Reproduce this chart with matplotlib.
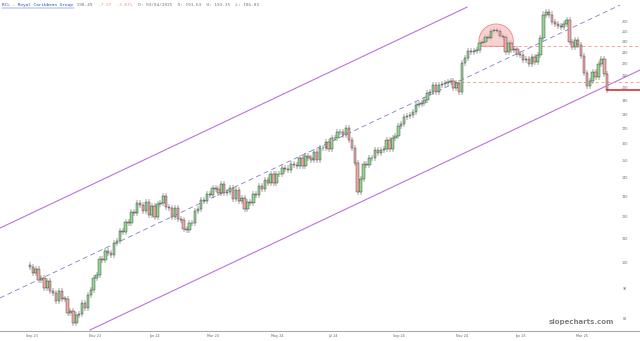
import matplotlib
matplotlib.use('Agg')
import matplotlib.pyplot as plt
import numpy as np
from matplotlib.transforms import blended_transform_factory, IdentityTransform
from matplotlib.patches import Polygon
from matplotlib.lines import Line2D

# ---------------------------------------------------------------------
# data (one candle per two sessions)

first_open = 99.2
closes = [
	98.2, 96.1, 97.6, 93.6, 94.0, 90.6, 92.9, 89.5, 88.6, 86.0,
	89.6, 86.8, 86.6, 82.0, 82.6, 78.9, 81.2, 81.6, 85.3, 83.6,
	88.0, 89.9, 94.0, 95.4, 101.5, 101.2, 104.8, 103.9, 103.0, 108.3,
	109.1, 113.3, 113.2, 117.8, 116.9, 122.5, 121.8, 126.6, 125.6, 122.6,
	127.5, 121.1, 125.3, 120.0, 126.3, 126.9, 130.5, 124.9, 124.4, 120.1,
	124.2, 119.2, 118.7, 114.3, 113.7, 116.9, 117.0, 122.6, 123.8, 128.4,
	127.9, 131.6, 131.1, 134.7, 134.2, 132.0, 136.6, 132.1, 132.5, 134.5,
	129.0, 133.5, 127.9, 129.4, 124.0, 127.4, 126.9, 131.5, 131.1, 135.6,
	134.2, 138.9, 137.4, 142.2, 137.5, 142.1, 142.0, 145.6, 145.4, 144.3,
	147.8, 147.7, 146.6, 151.4, 146.6, 152.5, 151.3, 150.1, 155.1, 150.1,
	157.5, 157.5, 161.3, 157.4, 163.9, 163.9, 167.8, 167.9, 166.4, 170.5,
	162.6, 157.6, 148.8, 132.6, 139.6, 147.9, 147.6, 151.4, 151.3, 156.3,
	154.9, 156.3, 157.4, 162.6, 157.4, 163.9, 165.2, 171.8, 173.3, 178.7,
	179.0, 180.1, 181.9, 187.4, 187.8, 188.9, 190.8, 196.5, 197.0, 202.8,
	196.9, 202.9, 203.3, 204.5, 205.0, 206.1, 200.2, 204.5, 197.0, 221.4,
	225.5, 232.2, 231.0, 232.1, 232.9, 239.6, 240.5, 245.4, 244.3, 251.3,
	252.2, 251.3, 246.2, 245.4, 231.0, 239.6, 232.9, 234.0, 229.2, 228.5,
	223.7, 224.9, 220.2, 226.7, 221.9, 228.5, 244.3, 267.9, 271.0, 267.9,
	260.5, 257.5, 256.3, 255.4, 258.4, 261.6, 240.5, 235.9, 242.4, 237.8,
	227.4, 212.8, 201.7, 206.1, 213.3, 209.4, 220.2, 224.9, 211.6, 198.49,
]

xtick_pos = [0.7, 22.4, 42.8, 63.1, 85.2, 104.5, 127.2, 149.0, 169.0, 190.3]
xtick_labels = ['Sep 23', 'Nov 23', 'Jan 24', 'Mar 24', 'May 24',
				'Jul 24', 'Sep 24', 'Nov 24', 'Jan 25', 'Mar 25']
ytick_vals = list(range(80, 261, 10))

# drawn trend channel (index, price)
chan_upper = [(-10.3, 114.8), (150.7, 275.9)]
chan_mid = [(-10.3, 87.0), (203.4, 278.1)]
chan_lower = [(20.7, 76.6), (210.3, 214.9)]

# horizontal levels (price, start index)
level_top = (236.2, 154.1)
level_mid = (204.7, 146.6)
last_price = 198.49

# rounded-top marker (index, price of centre, price of base, radius in px)
dome = (160.7, 241.0, 236.2, 17.2)

header = [
	('RCL - Royal Caribbean Group', '#2a4fc9'),
	(' 198.49', '#777777'),
	('  -7.57  -3.67%', '#f08a7a'),
	('  D: 03/04/2025  O: 191.63  H: 193.35  L: 186.03', '#777777'),
]

#----------------------------------------------------------------------

def draw_candles(ax):
	n = len(closes)
	x = np.arange(n)
	c = np.array(closes)
	o = np.concatenate([[first_open], c[:-1]])
	top = np.maximum(o, c)
	bot = np.minimum(o, c)
	wick = 1.012
	ax.vlines(x, bot / wick, top * wick, color='#444444', lw=0.35, zorder=2)
	up = c >= o
	h = np.maximum(top - bot, top * 0.003)
	ax.bar(x[up], h[up], bottom=bot[up], width=0.85, color='#8fd88f',
		   edgecolor='#333333', linewidth=0.3, zorder=3)
	ax.bar(x[~up], h[~up], bottom=bot[~up], width=0.85, color='#f4a6a6',
		   edgecolor='#333333', linewidth=0.3, zorder=3)


def draw_markup(ax):
	for pts, ls, col, lw in [(chan_upper, '-', '#bb72e0', 0.8),
							 (chan_lower, '-', '#bb72e0', 0.8),
							 (chan_mid, (0, (6, 4)), '#8a78d0', 0.6)]:
		ax.plot([p[0] for p in pts], [p[1] for p in pts], linestyle=ls,
				color=col, lw=lw, zorder=1)

	x1 = ax.get_xlim()[1]
	for price, start in [level_top, level_mid]:
		ax.plot([start, x1], [price, price], linestyle=(0, (4, 3)),
				color='#f29a8e', lw=0.6, zorder=1)
	ax.plot([len(closes) - 1, x1], [last_price, last_price],
			color='#cc2222', lw=1.1, zorder=4)

	# rounded top
	cx, cy = ax.transData.transform((dome[0], dome[1]))
	_, base = ax.transData.transform((dome[0], dome[2]))
	r = dome[3]
	a0 = np.arcsin((base - cy) / r)
	t = np.linspace(a0, np.pi - a0, 80)
	pts = np.column_stack([cx + r * np.cos(t), cy + r * np.sin(t)])
	ax.add_patch(Polygon(pts, closed=True, transform=IdentityTransform(),
						 facecolor='#f6c4c4', edgecolor='#e06b6b',
						 alpha=0.75, lw=0.6, zorder=2))


def main():
	fig = plt.figure(figsize=(6.4, 3.41), dpi=100)
	ax = fig.add_axes([0, 10 / 341, 1, 327 / 341])

	ax.set_yscale('log')
	ax.set_xlim(-10.3, 210.3)
	ax.set_ylim(76.3, 279.3)

	draw_candles(ax)
	draw_markup(ax)

	ax.yaxis.set_major_locator(matplotlib.ticker.NullLocator())
	ax.yaxis.set_minor_locator(matplotlib.ticker.NullLocator())
	tr = blended_transform_factory(ax.transAxes, ax.transData)
	for v in ytick_vals:
		ax.text(0.977, v, str(v), transform=tr, ha='center', va='center',
				fontsize=2.4, color='#666666')

	ax.set_xticks(xtick_pos, xtick_labels)
	ax.tick_params(axis='x', length=0, pad=2.2, labelsize=2.4, labelcolor='#666666')

	for s in ['top', 'left', 'right']:
		ax.spines[s].set_visible(False)
	ax.spines['bottom'].set_color('#aaaaaa')
	ax.spines['bottom'].set_linewidth(0.8)

	ax.text(0.909, 0.018, 'slopecharts.com', transform=ax.transAxes,
			ha='center', va='bottom', fontsize=5, color='#808080',
			fontweight='bold')

	# header line
	charw = 0.602 * 3.2 * 100 / 72
	xpos = 2
	for s, col in header:
		fig.text(xpos / 640, 1 - 5 / 341, s, fontsize=3.2, color=col,
				 family='DejaVu Sans Mono', va='center', ha='left')
		if s.startswith('RCL'):
			fig.add_artist(Line2D([xpos / 640, (xpos + len(s) * charw) / 640],
								  [1 - 7.5 / 341, 1 - 7.5 / 341],
								  color=col, lw=0.3))
		xpos += len(s) * charw

	fig.savefig('out.png', dpi=100)


if __name__ == '__main__':
	main()
